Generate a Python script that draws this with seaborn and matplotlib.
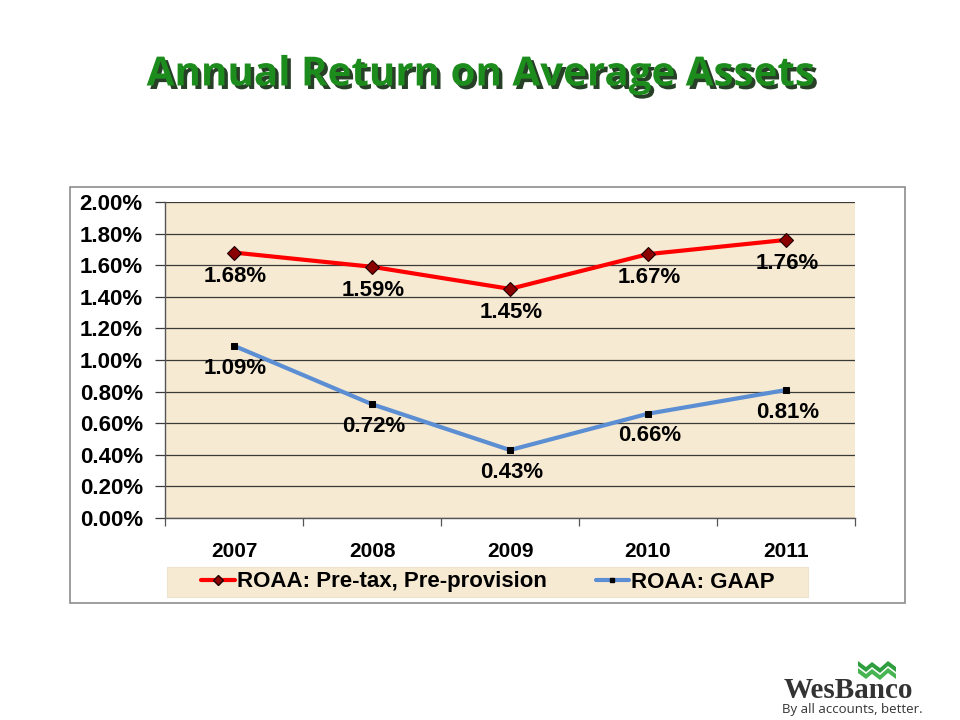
import matplotlib
matplotlib.use("Agg")
import matplotlib.pyplot as plt
import matplotlib.patheffects as pe
from matplotlib.patches import Rectangle, Polygon
from matplotlib.lines import Line2D
from matplotlib.ticker import FuncFormatter, FixedLocator
import seaborn as sns
import pandas as pd

years = ["2007", "2008", "2009", "2010", "2011"]
pretax = [1.68, 1.59, 1.45, 1.67, 1.76]
gaap = [1.09, 0.72, 0.43, 0.66, 0.81]
series_names = ["ROAA: Pre-tax, Pre-provision", "ROAA: GAAP"]
title = "Annual Return on Average Assets"

sns.set_style("white")
plt.rcParams["font.family"] = ["Liberation Sans", "DejaVu Sans"]

BG = "#F7EAD2"
RED = "#FF0000"
BLUE = "#5B8ED3"
FS = 15

fig = plt.figure(figsize=(9.6, 7.2), dpi=100)
fig.patch.set_facecolor("white")

# chart frame
frame = Rectangle((70 / 960, 1 - 603 / 720), 835 / 960, 416 / 720, transform=fig.transFigure,
                  facecolor="white", edgecolor="#8c8c8c", lw=1.2, zorder=-5)
fig.patches.append(frame)
# legend background box
legbox = Rectangle((167 / 960, 1 - 597 / 720), 641 / 960, 30 / 720, transform=fig.transFigure,
                   facecolor=BG, edgecolor="#ece2cf", lw=0.8, zorder=-4)
fig.patches.append(legbox)

ax = fig.add_axes([165 / 960, 1 - 518 / 720, 690 / 960, 316 / 720])
ax.set_facecolor(BG)

df1 = pd.DataFrame({"year": years, "value": pretax})
df2 = pd.DataFrame({"year": years, "value": gaap})

sns.lineplot(data=df1, x="year", y="value", ax=ax, color=RED, lw=3.0, marker="D",
             markersize=7, markerfacecolor="#8A0000", markeredgecolor="#200000",
             markeredgewidth=0.8, zorder=4, sort=False)
sns.lineplot(data=df2, x="year", y="value", ax=ax, color=BLUE, lw=3.0, marker="s",
             markersize=4.5, markerfacecolor="black", markeredgecolor="black",
             zorder=4, sort=False)

ax.set_xlim(-0.5, 4.5)
ax.set_ylim(0, 2.0)
ax.set_yticks([i * 0.2 for i in range(11)])
ax.yaxis.set_major_formatter(FuncFormatter(lambda v, p: f"{v:.2f}%"))
ax.grid(axis="y", color="#3a3a3a", lw=0.9)
ax.grid(axis="x", visible=False)
ax.set_axisbelow(True)
for s in ["top", "right"]:
    ax.spines[s].set_visible(False)
ax.spines["left"].set_color("#555555")
ax.spines["bottom"].set_color("#555555")
ax.spines["left"].set_linewidth(1)
ax.spines["bottom"].set_linewidth(1)
ax.tick_params(axis="y", which="major", length=7, width=0.9, color="#3a3a3a", direction="out",
               labelsize=FS + 1, pad=9, left=True, labelcolor="black")
for t in ax.get_yticklabels():
    t.set_fontweight("bold")
ax.set_xticks(range(len(years)))
ax.set_xticklabels(years, fontsize=FS, fontweight="bold", color="black")
ax.tick_params(axis="x", which="major", length=0, pad=17)
ax.xaxis.set_minor_locator(FixedLocator([-0.5, 0.5, 1.5, 2.5, 3.5, 4.5]))
ax.tick_params(axis="x", which="minor", length=6, width=0.9, color="#555555", bottom=True)
ax.set_xlabel("")
ax.set_ylabel("")

for i, (a, b) in enumerate(zip(pretax, gaap)):
    ax.annotate(f"{a:.2f}%", (i, a), xytext=(1, -17), textcoords="offset points",
                ha="center", va="center", fontsize=FS + 1, fontweight="bold", color="black", zorder=6)
    ax.annotate(f"{b:.2f}%", (i, b), xytext=(1, -16), textcoords="offset points",
                ha="center", va="center", fontsize=FS + 1, fontweight="bold", color="black", zorder=6)

handles = [
    Line2D([0], [0], color=RED, lw=3.0, marker="D", markersize=5, markerfacecolor="#8A0000",
           markeredgecolor="#200000"),
    Line2D([0], [0], color=BLUE, lw=3.0, marker="s", markersize=3.5, markerfacecolor="black",
           markeredgecolor="black"),
]
leg = fig.legend(handles, series_names, loc="center", ncol=2,
                 bbox_to_anchor=(488 / 960, 1 - 582 / 720), frameon=False,
                 prop={"family": "Liberation Sans", "weight": "bold", "size": 16},
                 handlelength=1.5, handletextpad=0.1, columnspacing=2.2, borderpad=0.3,
                 labelcolor="black")

# title
fig.text(0.5, 1 - 75 / 720, title, ha="center", va="center", fontsize=29,
         fontweight="bold", color="#1C8C1C", family=["Open Sans", "DejaVu Sans"],
         path_effects=[pe.withSimplePatchShadow(offset=(2.5, -2.5), shadow_rgbFace="#0f2a0f", alpha=0.9)])

# logo
lx, ly = 848 / 960, 1 - 690 / 720
fig.text(lx, ly, "WesBanco", ha="center", va="center", fontsize=21, fontweight="bold",
         color="#333333", family=["Liberation Serif", "DejaVu Serif"])
fig.text(lx + 0.005, 1 - 709 / 720, "By all accounts, better.", ha="center", va="center",
         fontsize=9.5, color="#333333", family=["Open Sans", "DejaVu Sans"])
for k, c in enumerate(["#2E9E3E", "#46B450"]):
    yoff = k * 7
    pts = [(858, 661 + yoff), (866, 667 + yoff), (872, 662 + yoff), (880, 668 + yoff),
           (888, 661 + yoff), (896, 667 + yoff), (896, 672 + yoff), (888, 666 + yoff),
           (880, 673 + yoff), (872, 667 + yoff), (866, 672 + yoff), (858, 666 + yoff)]
    poly = Polygon([(x / 960, 1 - y / 720) for x, y in pts], closed=True,
                   transform=fig.transFigure, facecolor=c, edgecolor="none")
    fig.patches.append(poly)

fig.savefig("out.png", dpi=100, facecolor="white")
